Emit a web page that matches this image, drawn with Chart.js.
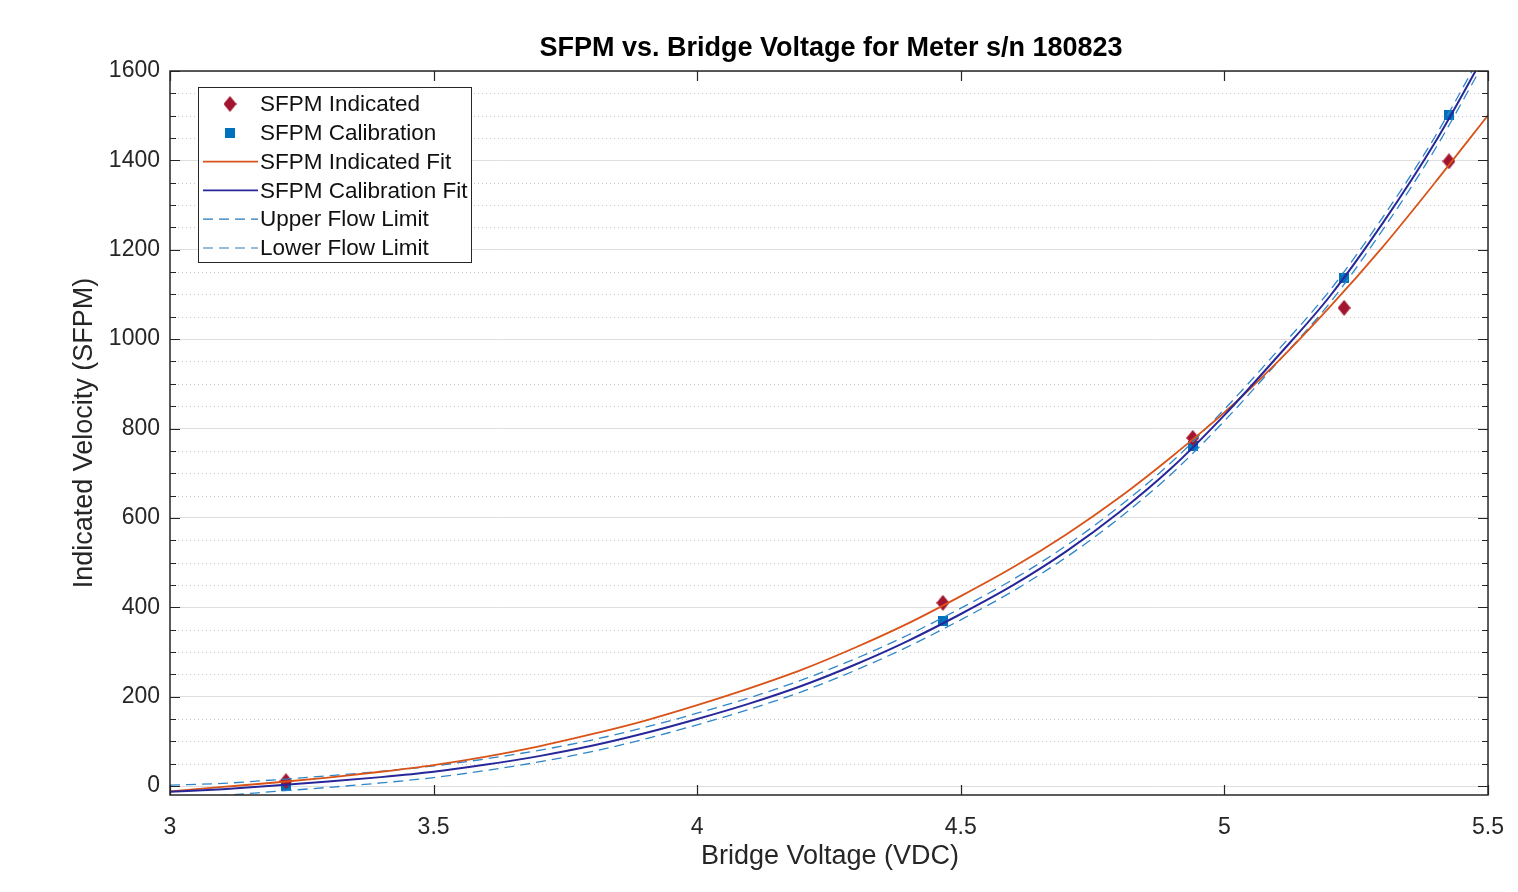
<!DOCTYPE html>
<html>
<head>
<meta charset="utf-8">
<script src="https://cdn.jsdelivr.net/npm/chart.js@4/dist/chart.umd.min.js"></script>
<style>
  html, body { margin: 0; padding: 0; background: #fff; }
  #wrap { width: 1518px; height: 892px; position: relative; }
</style>
</head>
<body>
<div id="wrap"><canvas id="sfpm-chart"></canvas></div>
<script>
// measured points
const voltage = [3.22, 4.466, 4.94, 5.227, 5.426];
const sfpmIndicated = [11, 410, 779, 1070, 1398];
const sfpmCalibration = [0, 369, 761, 1137, 1501];

// fit curves
const fitVoltage = [3.0, 3.1, 3.2, 3.3, 3.4, 3.5, 3.6, 3.7, 3.8, 3.9, 4.0, 4.1, 4.2, 4.3, 4.4, 4.5, 4.6, 4.7, 4.8, 4.9, 5.0, 5.1, 5.2, 5.3, 5.4, 5.5];
const indicatedFit = [-12, -2, 8, 19, 32, 47, 66, 89, 116, 146, 181, 219, 261, 310, 364, 425, 490, 563, 645, 737, 836, 948, 1072, 1206, 1351, 1501];
const calibrationFit = [-13, -7, 1, 10, 20, 32, 48, 67, 90, 118, 150, 185, 225, 272, 325, 385, 450, 525, 612, 712, 830, 960, 1096, 1259, 1441, 1650];
const upperLimit = [2, 6, 14, 23, 33, 45, 61, 80, 103, 131, 163, 198, 238, 285, 338, 398, 463, 538, 625, 725, 843, 973, 1109, 1272, 1454, 1665];
const lowerLimit = [-28, -21, -12, -3, 7, 19, 35, 54, 77, 105, 137, 172, 212, 259, 312, 372, 437, 512, 599, 699, 817, 947, 1081, 1244, 1426, 1635];

const xTicks = [3, 3.5, 4, 4.5, 5, 5.5];
const yMajor = [0, 200, 400, 600, 800, 1000, 1200, 1400, 1600];

const FONT = "'Liberation Sans', Arial, Helvetica, sans-serif";
const TXT = "#262626";

function pairs(xs, ys) {
  return xs.map((x, i) => ({ x: x, y: ys[i] }));
}

function makeMarker(kind, color) {
  const c = document.createElement("canvas");
  const w = kind === "diamond" ? 13 : 10;
  const h = kind === "diamond" ? 16 : 10;
  c.width = w; c.height = h;
  const g = c.getContext("2d");
  g.fillStyle = color;
  g.beginPath();
  if (kind === "diamond") {
    g.moveTo(w / 2, 0); g.lineTo(w, h / 2); g.lineTo(w / 2, h); g.lineTo(0, h / 2);
  } else {
    g.rect(0, 0, w, h);
  }
  g.closePath();
  g.fill();
  return c;
}

const diamond = makeMarker("diamond", "#A2142F");
const square = makeMarker("square", "#0072BD");

const legendItems = [
  { text: "SFPM Indicated", marker: diamond },
  { text: "SFPM Calibration", marker: square },
  { text: "SFPM Indicated Fit", color: "#D95319", width: 1.6 },
  { text: "SFPM Calibration Fit", color: "#27279A", width: 1.6 },
  { text: "Upper Flow Limit", color: "#2878B4", width: 1.2, dash: [10, 6] },
  { text: "Lower Flow Limit", color: "#2878B4", width: 1.2, dash: [10, 6] },
];

const matlabLook = {
  id: "matlabLook",
  beforeDatasetsDraw(chart) {
    const ctx = chart.ctx;
    const a = chart.chartArea;
    const y = chart.scales.y;
    ctx.save();
    ctx.strokeStyle = "#c8c8c8";
    ctx.lineWidth = 1;
    ctx.setLineDash([1, 3]);
    for (let v = 0; v <= 1600; v += 50) {
      if (v % 200 === 0) continue;
      const py = Math.round(y.getPixelForValue(v)) + 0.5;
      ctx.beginPath(); ctx.moveTo(a.left, py); ctx.lineTo(a.right, py); ctx.stroke();
    }
    ctx.restore();
  },
  afterDraw(chart) {
    const ctx = chart.ctx;
    const a = chart.chartArea;
    const x = chart.scales.x;
    const y = chart.scales.y;
    ctx.save();
    // ticks pointing inward
    ctx.strokeStyle = TXT;
    ctx.lineWidth = 1.2;
    xTicks.forEach(v => {
      const px = Math.round(x.getPixelForValue(v)) + 0.5;
      ctx.beginPath();
      ctx.moveTo(px, a.bottom); ctx.lineTo(px, a.bottom - 10);
      ctx.moveTo(px, a.top); ctx.lineTo(px, a.top + 10);
      ctx.stroke();
    });
    for (let v = 0; v <= 1600; v += 50) {
      const len = v % 200 === 0 ? 10 : 6;
      const py = Math.round(y.getPixelForValue(v)) + 0.5;
      ctx.beginPath();
      ctx.moveTo(a.left, py); ctx.lineTo(a.left + len, py);
      ctx.moveTo(a.right, py); ctx.lineTo(a.right - len, py);
      ctx.stroke();
    }
    // axes box
    ctx.lineWidth = 1.5;
    ctx.strokeRect(a.left, a.top, a.right - a.left, a.bottom - a.top);

    // titles
    ctx.fillStyle = "#000";
    ctx.textAlign = "center";
    ctx.textBaseline = "middle";
    ctx.font = "bold 27px " + FONT;
    ctx.fillText("SFPM vs. Bridge Voltage for Meter s/n 180823", 831, 49);
    ctx.fillStyle = TXT;
    ctx.font = "27px " + FONT;
    ctx.fillText("Bridge Voltage (VDC)", 830, 857);
    ctx.save();
    ctx.translate(85, (a.top + a.bottom) / 2);
    ctx.rotate(-Math.PI / 2);
    ctx.fillText("Indicated Velocity (SFPM)", 0, 0);
    ctx.restore();

    // legend box inside the axes
    const lx = 198, ly = 87, lw = 273, lh = 175;
    ctx.fillStyle = "#fff";
    ctx.fillRect(lx, ly, lw, lh);
    ctx.strokeStyle = TXT;
    ctx.lineWidth = 1;
    ctx.setLineDash([]);
    ctx.strokeRect(lx + 0.5, ly + 0.5, lw, lh);
    ctx.font = "22.5px " + FONT;
    ctx.textAlign = "left";
    ctx.textBaseline = "middle";
    legendItems.forEach((item, i) => {
      const cy = 104 + i * 28.8;
      if (item.marker) {
        ctx.drawImage(item.marker, 230 - item.marker.width / 2, cy - item.marker.height / 2);
      } else {
        ctx.strokeStyle = item.color;
        ctx.lineWidth = item.width;
        ctx.setLineDash(item.dash || []);
        ctx.beginPath(); ctx.moveTo(203, cy); ctx.lineTo(258, cy); ctx.stroke();
        ctx.setLineDash([]);
      }
      ctx.fillStyle = "#111";
      ctx.fillText(item.text, 260, cy + 1);
    });
    ctx.restore();
  },
};

function lineSet(label, ys, color, width, dash, order) {
  return {
    label: label,
    data: pairs(fitVoltage, ys),
    showLine: true,
    borderColor: color,
    backgroundColor: color,
    borderWidth: width,
    borderDash: dash,
    pointRadius: 0,
    cubicInterpolationMode: "monotone",
    order: order,
  };
}

new Chart(document.getElementById("sfpm-chart"), {
  type: "scatter",
  data: {
    datasets: [
      { label: "SFPM Indicated", data: pairs(voltage, sfpmIndicated), pointStyle: diamond, order: 10 },
      { label: "SFPM Calibration", data: pairs(voltage, sfpmCalibration), pointStyle: square, order: 10 },
      lineSet("SFPM Indicated Fit", indicatedFit, "#D95319", 1.8, [], 2),
      lineSet("SFPM Calibration Fit", calibrationFit, "#27279A", 2, [], 1),
      lineSet("Upper Flow Limit", upperLimit, "#2F86C6", 1.3, [10, 6], 3),
      lineSet("Lower Flow Limit", lowerLimit, "#2F86C6", 1.3, [10, 6], 3),
    ],
  },
  options: {
    responsive: true,
    maintainAspectRatio: false,
    animation: false,
    layout: { padding: { left: 0, top: 71, right: 30, bottom: 0 } },
    plugins: { legend: { display: false }, tooltip: { enabled: false } },
    scales: {
      x: {
        type: "linear",
        min: 3,
        max: 5.5,
        afterBuildTicks: s => { s.ticks = xTicks.map(v => ({ value: v })); },
        afterFit: s => { s.height = 97; },
        grid: { display: false },
        border: { display: false },
        ticks: { color: TXT, font: { family: FONT, size: 23 }, padding: 11, maxRotation: 0, callback: v => String(v) },
      },
      y: {
        type: "linear",
        min: -20,
        max: 1600,
        afterBuildTicks: s => { s.ticks = yMajor.map(v => ({ value: v })); },
        afterFit: s => { s.width = 170; },
        grid: { color: "#dedede", lineWidth: 1, drawTicks: false },
        border: { display: false },
        ticks: { color: TXT, font: { family: FONT, size: 23 }, padding: 10, callback: v => String(v) },
      },
    },
  },
  plugins: [matlabLook],
});
</script>
</body>
</html>
